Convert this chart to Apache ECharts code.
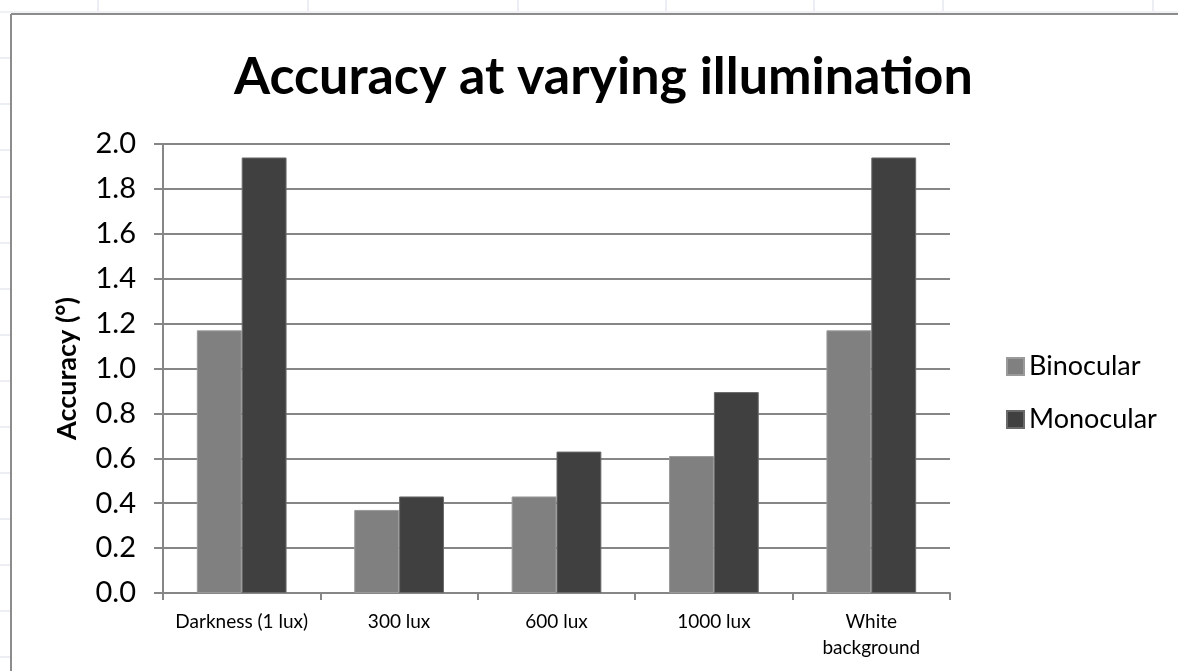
<!DOCTYPE html>
<html>
<head>
<meta charset="utf-8">
<script src="https://cdn.jsdelivr.net/npm/echarts@6/dist/echarts.min.js"></script>
<style>
  html, body { margin: 0; padding: 0; background: #fff; }
  #chart { width: 1178px; height: 671px; }
</style>
</head>
<body>
<div id="chart"></div>
<script>
const categories = ['Darkness (1 lux)', '300 lux', '600 lux', '1000 lux', 'White\nbackground']
const binocular = [1.17, 0.37, 0.43, 0.61, 1.17]
const monocular = [1.94, 0.43, 0.63, 0.895, 1.94]
const yTicks = { min: 0, max: 2, interval: 0.2 }

const font = 'Lato, "Open Sans", sans-serif'
const chart = echarts.init(document.getElementById('chart'))

// spreadsheet cell borders behind the chart object
const sheetLines = []
const colX = [98, 308, 518, 666, 814, 943, 1153]
colX.forEach(x => {
  sheetLines.push({ type: 'line', shape: { x1: x, y1: 0, x2: x, y2: 11 }, style: { stroke: '#d8dde6', lineWidth: 1 } })
})
const rowY = [150, 197, 243, 289, 335, 381, 427, 473, 519, 565, 611, 657, 104, 58]
rowY.forEach(y => {
  sheetLines.push({ type: 'line', shape: { x1: 0, y1: y, x2: 10, y2: y }, style: { stroke: '#d8dde6', lineWidth: 1 } })
})

chart.setOption({
  backgroundColor: '#fff',
  animation: false,
  title: {
    text: 'Accuracy at varying illumination',
    left: 229,
    top: 46,
    textStyle: { fontFamily: font, fontWeight: 'bold', fontSize: 52, color: '#000' }
  },
  legend: {
    orient: 'vertical',
    left: 1001,
    top: 348,
    itemWidth: 17,
    itemHeight: 17,
    itemGap: 26,
    icon: 'rect',
    textStyle: { fontFamily: font, fontSize: 27, color: '#000' },
    data: ['Binocular', 'Monocular']
  },
  grid: { left: 163, right: 228, top: 144, bottom: 78, containLabel: false },
  xAxis: {
    type: 'category',
    data: categories,
    axisLine: { lineStyle: { color: '#868686', width: 2 } },
    axisTick: { show: true, length: 7, lineStyle: { color: '#868686', width: 2 } },
    axisLabel: { fontFamily: font, fontSize: 19, color: '#000', margin: 16, lineHeight: 26, interval: 0 }
  },
  yAxis: {
    type: 'value',
    min: yTicks.min,
    max: yTicks.max,
    interval: yTicks.interval,
    name: 'Accuracy (°)',
    nameLocation: 'middle',
    nameGap: 82,
    nameRotate: 90,
    nameTextStyle: { fontFamily: font, fontWeight: 'bold', fontSize: 27, color: '#000' },
    axisLine: { show: true, lineStyle: { color: '#868686', width: 2 } },
    axisTick: { show: true, length: 9, lineStyle: { color: '#868686', width: 2 } },
    axisLabel: { fontFamily: font, fontSize: 29, color: '#000', margin: 27, formatter: v => v.toFixed(1) },
    splitLine: { show: true, lineStyle: { color: '#868686', width: 2 } }
  },
  series: [
    {
      name: 'Binocular',
      type: 'bar',
      data: binocular,
      barGap: '0%',
      barCategoryGap: '43%',
      itemStyle: { color: '#808080', borderColor: '#9a9a9a', borderWidth: 1 }
    },
    {
      name: 'Monocular',
      type: 'bar',
      data: monocular,
      itemStyle: { color: '#404040', borderColor: '#6a6a6a', borderWidth: 1 }
    }
  ],
  graphic: sheetLines.concat([
    { type: 'line', shape: { x1: 0, y1: 12, x2: 1178, y2: 12 }, style: { stroke: '#dfe3ea', lineWidth: 1 } },
    { type: 'line', shape: { x1: 11, y1: 14, x2: 1178, y2: 14 }, style: { stroke: '#8c8c8c', lineWidth: 2 } },
    { type: 'line', shape: { x1: 11, y1: 14, x2: 11, y2: 671 }, style: { stroke: '#8c8c8c', lineWidth: 2 } }
  ])
})
</script>
</body>
</html>
